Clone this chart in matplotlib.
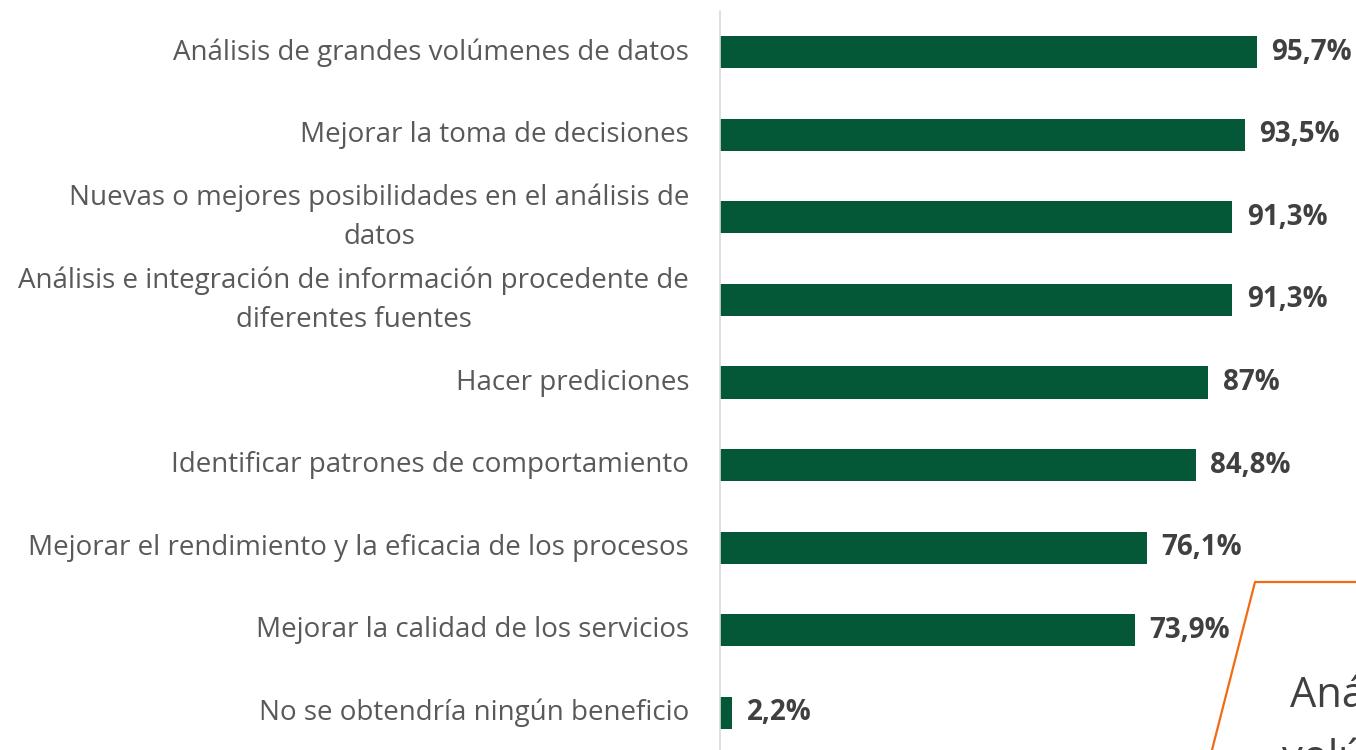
import matplotlib.pyplot as plt
from matplotlib.lines import Line2D

categories = [
    'Análisis de grandes volúmenes de datos',
    'Mejorar la toma de decisiones',
    'Nuevas o mejores posibilidades en el análisis de\ndatos',
    'Análisis e integración de información procedente de\ndiferentes fuentes',
    'Hacer prediciones',
    'Identificar patrones de comportamiento',
    'Mejorar el rendimiento y la eficacia de los procesos',
    'Mejorar la calidad de los servicios',
    'No se obtendría ningún beneficio',
]
values = [95.7, 93.5, 91.3, 91.3, 87, 84.8, 76.1, 73.9, 2.2]
value_labels = ['95,7%', '93,5%', '91,3%', '91,3%', '87%', '84,8%', '76,1%', '73,9%', '2,2%']

plt.rcParams['font.family'] = ['Open Sans', 'DejaVu Sans']

W, H = 1356, 750
fig = plt.figure(figsize=(W / 100, H / 100), dpi=100)
ax = fig.add_axes([720 / W, -4 / H, 561 / W, 743 / H])

y = list(range(len(categories)))
ax.barh(y, values, height=0.39, color='#055837')
ax.set_xlim(0, 100)
ax.set_ylim(len(categories) - 0.5, -0.5)

for yi, cat, v, lab in zip(y, categories, values, value_labels):
    ax.text(-5.5, yi, cat, ha='right', va='center', multialignment='center',
            fontsize=20, color='#595959', linespacing=1.53, clip_on=False)
    ax.text(v + 2.6, yi, lab, ha='left', va='center', fontsize=20,
            fontweight='bold', color='#404040', clip_on=False)

for side in ['top', 'right', 'bottom']:
    ax.spines[side].set_visible(False)
ax.spines['left'].set_color('#d9d9d9')
ax.spines['left'].set_linewidth(1.2)
ax.set_xticks([])
ax.set_yticks([])

# cropped callout box in the lower right corner
fig.add_artist(Line2D([1212 / W, 1255 / W, 1.0], [0, 1 - 582 / H, 1 - 582 / H],
                      transform=fig.transFigure, color='#f26b12', lw=1.6))
fig.text(1290 / W, 1 - 707 / H, 'Aná', fontsize=30, color='#404040', va='baseline')
fig.text(1282 / W, 1 - 770 / H, 'volú', fontsize=30, color='#404040', va='baseline')

fig.savefig('out.png', dpi=100, facecolor='white')
